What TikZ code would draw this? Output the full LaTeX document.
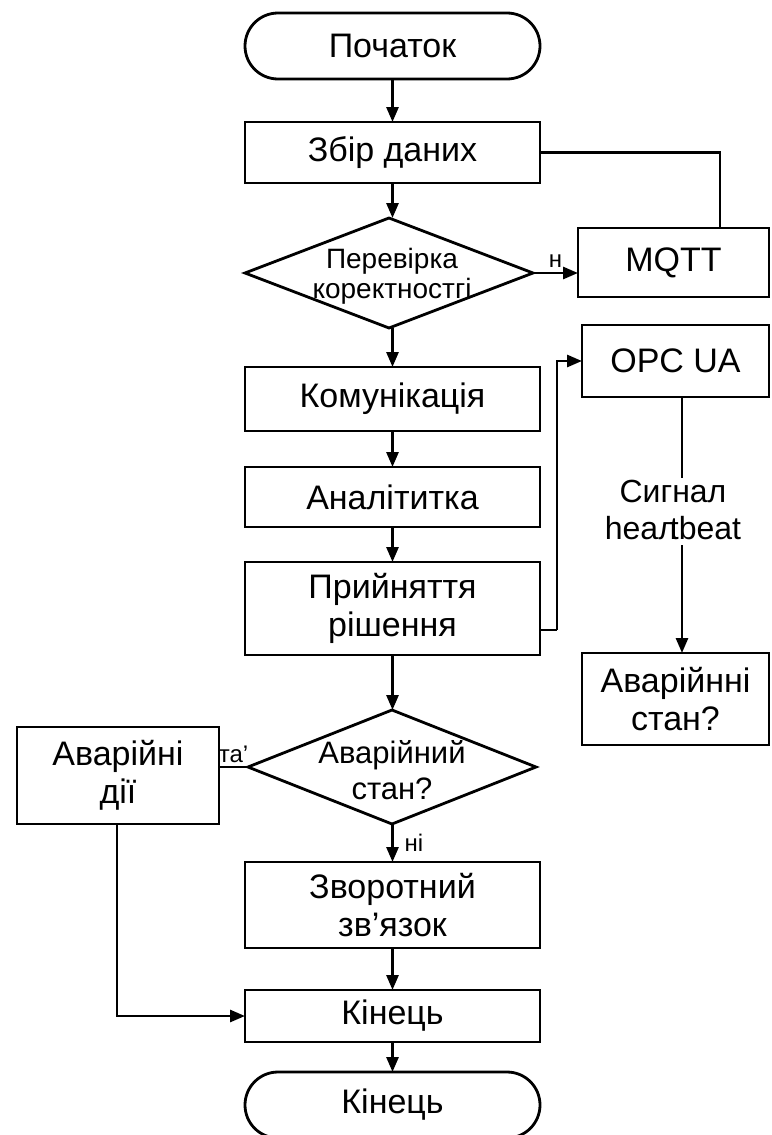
\documentclass[tikz,border=0pt]{standalone}
\usepackage{fontspec}
\setmainfont{Liberation Sans}
\usetikzlibrary{shapes.geometric,arrows.meta,calc}
\begin{document}
\begin{tikzpicture}[x=0.5pt,y=-0.5pt,
  every node/.style={inner sep=0pt,outer sep=0pt},
  ln/.style={line width=1.4pt},
  arr/.style={ln,-{Triangle[length=7.5pt,width=6pt]}},
  txt/.style={font=\fontsize{17}{19}\selectfont,align=center},
  box/.style={draw,ln,rectangle,minimum width=147.5pt,txt},
  term/.style={box,rounded corners=16.5pt,minimum height=33pt},
  dia/.style={draw,ln,diamond,minimum width=144pt},
  lbl/.style={font=\fontsize{12}{14}\selectfont}
]
\useasboundingbox (0,0) rectangle (771,1135);
% main column
\node[term] (start) at (392.5,46) {Початок};
\node[box,minimum height=30.5pt] (zbir) at (392.5,152.5) {Збір даних};
\node[dia,minimum height=55pt] (chk) at (389,273) {};
\node[txt,font=\fontsize{14}{15}\selectfont] (chkt) at (392,276) {Перевірка\\коректностгі};
\node[box,minimum height=32pt] (kom) at (392.5,399) {Комунікація};
\node[box,minimum height=30pt] (anal) at (392.5,497) {Аналітитка};
\node[box,minimum height=46.5pt] (prij) at (392.5,608.5) {Прийняття\\рішення};
\node[dia,minimum height=57pt] (dia2) at (392,767) {};
\node[txt,font=\fontsize{15.5}{18}\selectfont] (dia2t) at (392,770) {Аварійний\\стан?};
\node[box,minimum height=43pt] (zv) at (392.5,905) {Зворотний\\зв’язок};
\node[box,minimum height=26pt] (kin) at (392.5,1016) {Кінець};
\node[term] (end) at (392.5,1105) {Кінець};
% right column
\node[box,minimum width=95.5pt,minimum height=34.5pt] (mqtt) at (673.5,262.5) {MQTT};
\node[box,minimum width=93.5pt,minimum height=36pt] (opc) at (675.5,361) {OPC UA};
\node[txt,font=\fontsize{16}{18.5}\selectfont] (sig) at (673,510) {Сигнал\\heaл\kern-0.22em tbeat};
\node[box,minimum width=93.5pt,minimum height=46pt] (avar) at (675.5,699) {Аварійнні\\стан?};
% left
\node[box,minimum width=101pt,minimum height=48.5pt] (avd) at (118,775.5) {Аварійні\\дії};
% coordinates
\coordinate (j1) at (720,152.5);
\coordinate (p1) at (540,630);
\coordinate (p2) at (557,630);
\coordinate (s1) at (682,397);
\coordinate (s2) at (682,478);
\coordinate (s3) at (682,545);
\coordinate (a1) at (117,1016);
% connectors
\draw[arr] (start) -- (zbir);
\draw[arr] (zbir) -- (zbir.south |- chk.north);
\draw[arr] (chk.east) -- node[lbl,above=3pt] {н} (mqtt.west |- chk.east);
\draw[ln] (zbir.east) -- (j1) -- (j1 |- mqtt.north);
\draw[arr] (zbir.south |- chk.south) -- (kom);
\draw[arr] (kom) -- (anal);
\draw[arr] (anal) -- (prij);
\draw[ln] (p1) -- (p2);
\draw[arr] (p2) |- (opc.west);
\draw[ln] (s1) -- (s2);
\draw[arr] (s3) -- (s3 |- avar.north);
\draw[arr] (prij) -- (prij.south |- dia2.north);
\draw[ln] (dia2.west) -- node[lbl,above=2pt] {та’} (dia2.west -| avd.east);
\draw[arr] (prij.south |- dia2.south) -- node[lbl,right=6pt] {ні} (zv);
\draw[arr] (zv) -- (kin);
\draw[arr] (avd.south -| a1) -- (a1) -- (kin.west);
\draw[arr] (kin) -- (end);
\end{tikzpicture}
\end{document}
